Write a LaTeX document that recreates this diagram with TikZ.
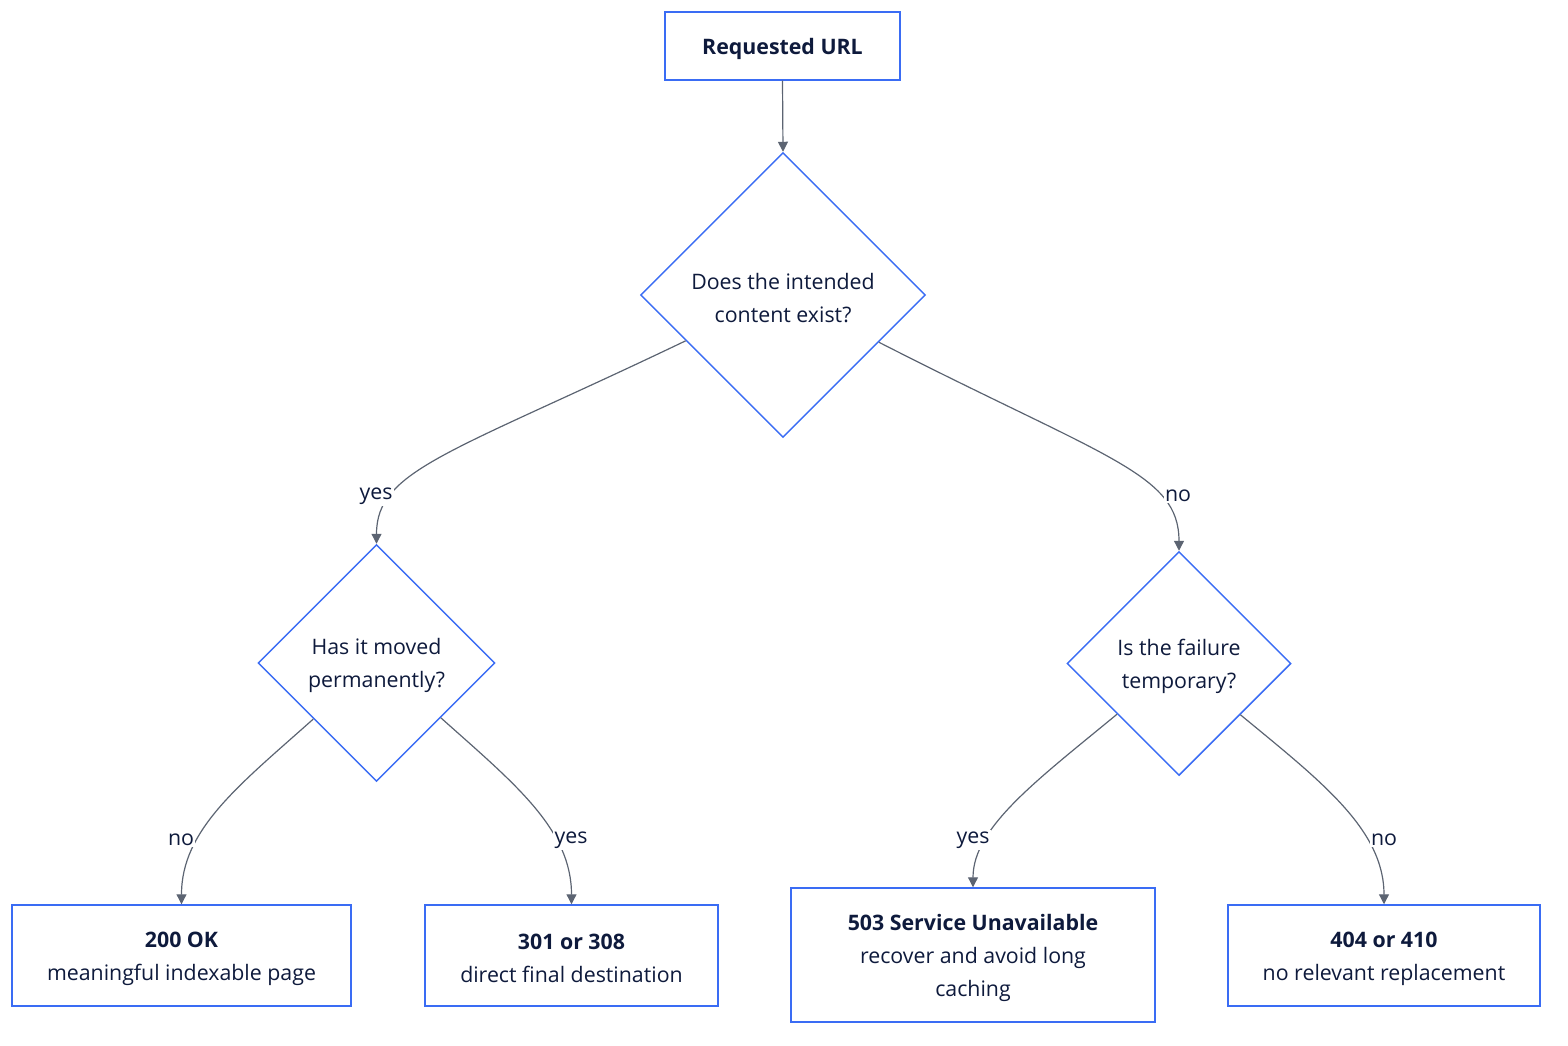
\documentclass[tikz,border=0pt]{standalone}
\usepackage{fontspec}
\setmainfont{Open Sans}
\usetikzlibrary{arrows.meta,shapes.geometric,calc}
\definecolor{ink}{HTML}{0E1A3C}
\definecolor{bord}{HTML}{3A6CF4}
\definecolor{edgec}{HTML}{5C6472}
\newcommand\mytopstrut{\rule{0pt}{16.5pt}}
\begin{document}
\begin{tikzpicture}[x=0.75pt,y=-0.75pt,
  every node/.style={text=ink,font=\fontsize{16}{24.75}\selectfont},
  box/.style={draw=bord,line width=1.1pt,rectangle,inner sep=0pt,align=center,fill=white},
  dia/.style={draw=bord,line width=1.1pt,diamond,aspect=1,inner sep=0pt,align=center,fill=white},
  conn/.style={draw=edgec,line width=0.9pt,-{Triangle[length=7.5pt,width=7.5pt]}},
  lab/.style={fill=white,inner sep=1pt}]
\useasboundingbox (0,0) rectangle (1568,1046);
% nodes
\node[box,minimum width=176.25pt,minimum height=51pt] (url) at (782.5,46) {\mytopstrut\bfseries Requested URL};
\node[dia,minimum width=213.75pt,minimum height=213.75pt] (d1) at (783,295) {\mytopstrut Does the intended\\content exist?};
\node[dia,minimum width=177.75pt,minimum height=177.75pt] (d2) at (376.5,663) {\mytopstrut Has it moved\\permanently?};
\node[dia,minimum width=168pt,minimum height=168pt] (d3) at (1179,663.5) {\mytopstrut Is the failure\\temporary?};
\node[box,minimum width=254.25pt,minimum height=75.75pt] (b200) at (181.5,955.5) {\mytopstrut\bfseries 200 OK\\meaningful indexable page};
\node[box,minimum width=219.75pt,minimum height=75.75pt] (b301) at (571.5,955.5) {\mytopstrut\bfseries 301 or 308\\direct final destination};
\node[box,minimum width=273pt,minimum height=100.5pt] (b503) at (973,955) {\mytopstrut\bfseries 503 Service Unavailable\\recover and avoid long\\caching};
\node[box,minimum width=234pt,minimum height=75.75pt] (b404) at (1384,955.5) {\mytopstrut\bfseries 404 or 410\\no relevant replacement};
% connector start points on diamond sides
\coordinate (s1l) at ($(d1.west)!0.32!(d1.south)$);
\coordinate (s1r) at ($(d1.east)!0.33!(d1.south)$);
\coordinate (s2l) at ($(d2.west)!0.47!(d2.south)$);
\coordinate (s2r) at ($(d2.east)!0.46!(d2.south)$);
\coordinate (s3l) at ($(d3.west)!0.45!(d3.south)$);
\coordinate (s3r) at ($(d3.east)!0.455!(d3.south)$);
% connectors
\draw[conn] (url.south) -- (d1.north);
\draw[conn] (s1l) .. controls +(-236,113) and +(0,-74) .. (d2.north);
\draw[conn] (s1r) .. controls +(229,117) and +(0,-77) .. (d3.north);
\draw[conn] (s2l) .. controls +(-74,66) and +(0,-75) .. (b200.north);
\draw[conn] (s2r) .. controls +(74,66) and +(0,-75) .. (b301.north);
\draw[conn] (s3l) .. controls +(-80,66) and +(0,-60) .. (b503.north);
\draw[conn] (s3r) .. controls +(80,66) and +(0,-75) .. (b404.north);
% labels
\node[lab] (l1) at (376,496) {yes};
\node[lab] (l2) at (1178,496) {no};
\node[lab] (l3) at (181,840) {no};
\node[lab] (l4) at (571,840) {yes};
\node[lab] (l5) at (973,840) {yes};
\node[lab] (l6) at (1384,840) {no};
\end{tikzpicture}
\end{document}
